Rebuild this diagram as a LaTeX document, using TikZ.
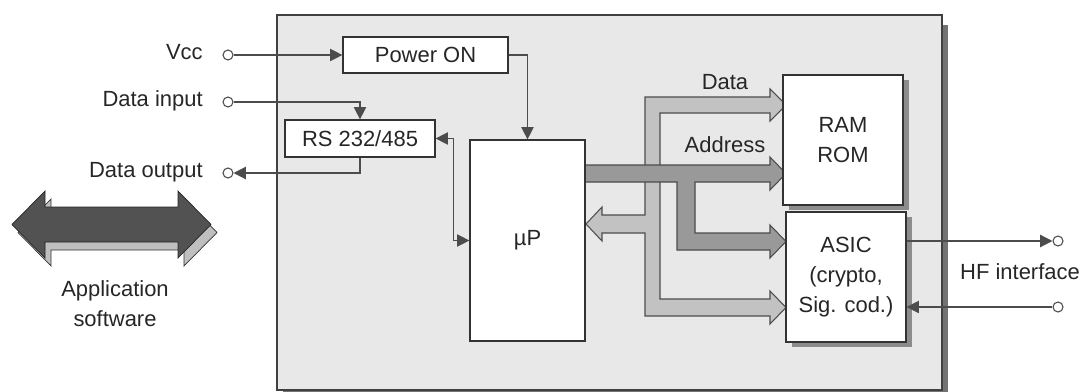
\documentclass[tikz,border=0pt]{standalone}
\usepackage{fontspec}
\setmainfont{Liberation Sans}
\usetikzlibrary{arrows.meta,shadows}

\begin{document}
\begin{tikzpicture}[x=0.02cm,y=-0.02cm,
	every node/.style={font=\fontsize{12.5}{17}\selectfont, text=black!85},
	block/.style={draw=black!80, fill=white, line width=0.7pt, inner sep=0pt, align=center},
	shadowed/.style={drop shadow={shadow xshift=0.12cm, shadow yshift=-0.1cm, fill=black!45, opacity=1}},
	term/.style={circle, draw=black!70, fill=white, line width=0.6pt, inner sep=0pt, minimum size=0.2cm},
	sig/.style={draw=black!70, line width=0.7pt, -{Triangle[length=7pt,width=7pt]}},
	bus/.style={draw=black!70, line width=0.6pt, line join=miter}]
	\useasboundingbox (0,0) rectangle (1085,392);
	% card housing
	\node[draw=black!75, fill=black!9, line width=0.9pt, minimum width=13.3cm, minimum height=7.5cm,
		drop shadow={shadow xshift=0.12cm, shadow yshift=-0.2cm, fill=black!55, opacity=1}] (card) at (609.5,202.5) {};
	% data bus (light)
	\filldraw[bus, fill=black!24] (645,97) -- (770,97) -- (770,89) -- (786,105) -- (770,121) -- (770,113)
		-- (660,113) -- (660,299) -- (770,299) -- (770,291) -- (786,307.5) -- (770,324) -- (770,316)
		-- (645,316) -- (645,233) -- (602,233) -- (602,241) -- (586,224) -- (602,207) -- (602,215)
		-- (645,215) -- cycle;
	% address bus (dark)
	\filldraw[bus, fill=black!40] (585,165) -- (770,165) -- (770,157) -- (786,173.5) -- (770,190) -- (770,182)
		-- (695,182) -- (695,233) -- (770,233) -- (770,225) -- (786,241.5) -- (770,258) -- (770,250)
		-- (677,250) -- (677,182) -- (585,182) -- cycle;
	\node at (725,82) (lbldata) {Data};
	\node at (725,145) (lbladdr) {Address};
	% blocks
	\node[block, minimum width=3.3cm, minimum height=0.72cm] (power) at (425.5,55) {Power ON};
	\node[block, minimum width=3.0cm, minimum height=0.74cm] (rs) at (360,138.5) {RS 232/485};
	\node[block, minimum width=2.3cm, minimum height=4.02cm] (up) at (527.5,240.5) {µP};
	\node[block, shadowed, minimum width=2.4cm, minimum height=2.6cm] (ram) at (843,140) {RAM\\ROM};
	\node[block, shadowed, minimum width=2.4cm, minimum height=2.6cm] (asic) at (846,277) {ASIC\\(crypto,\\Sig. cod.)};
	% terminals
	\node[term] (vcc) at (228,55) {};
	\node[term] (din) at (228,102) {};
	\node[term] (dout) at (228,173) {};
	\node[term] (hfout) at (1058,241) {};
	\node[term] (hfin) at (1058,307) {};
	\node[anchor=mid east, inner sep=0pt] (lvcc) at (203,55) {Vcc};
	\node[anchor=mid east, inner sep=0pt] (ldin) at (203,102) {Data input};
	\node[anchor=mid east, inner sep=0pt] (ldout) at (203,173) {Data output};
	\node[anchor=mid] (lhf) at (1020,275) {HF interface};
	% signal lines
	\draw[sig] (vcc) -- (power);
	\draw[sig] (din) -| (rs);
	\draw[sig] (rs) |- (dout);
	\draw[sig] (power) -| (up);
	\draw[sig, {Triangle[length=7pt,width=7pt]}-{Triangle[length=7pt,width=7pt]}] (rs.east) -- ++(18,0) |- (up.west);
	\draw[sig] (asic.east |- hfout) -- (hfout);
	\draw[sig] (hfin) -- (hfin -| asic.east);
	% application software arrow
	\filldraw[draw=black!80, fill=black!25, shift={(6,8)}] (12,224.5) -- (45,191) -- (45,207) -- (178,207) -- (178,191)
		-- (211,224.5) -- (178,258) -- (178,242) -- (45,242) -- (45,258) -- cycle;
	\filldraw[draw=black!85, fill=black!68] (12,224.5) -- (45,191) -- (45,207) -- (178,207) -- (178,191)
		-- (211,224.5) -- (178,258) -- (178,242) -- (45,242) -- (45,258) -- cycle;
	\node[align=center] (lapp) at (115,304) {Application\\software};
\end{tikzpicture}
\end{document}
